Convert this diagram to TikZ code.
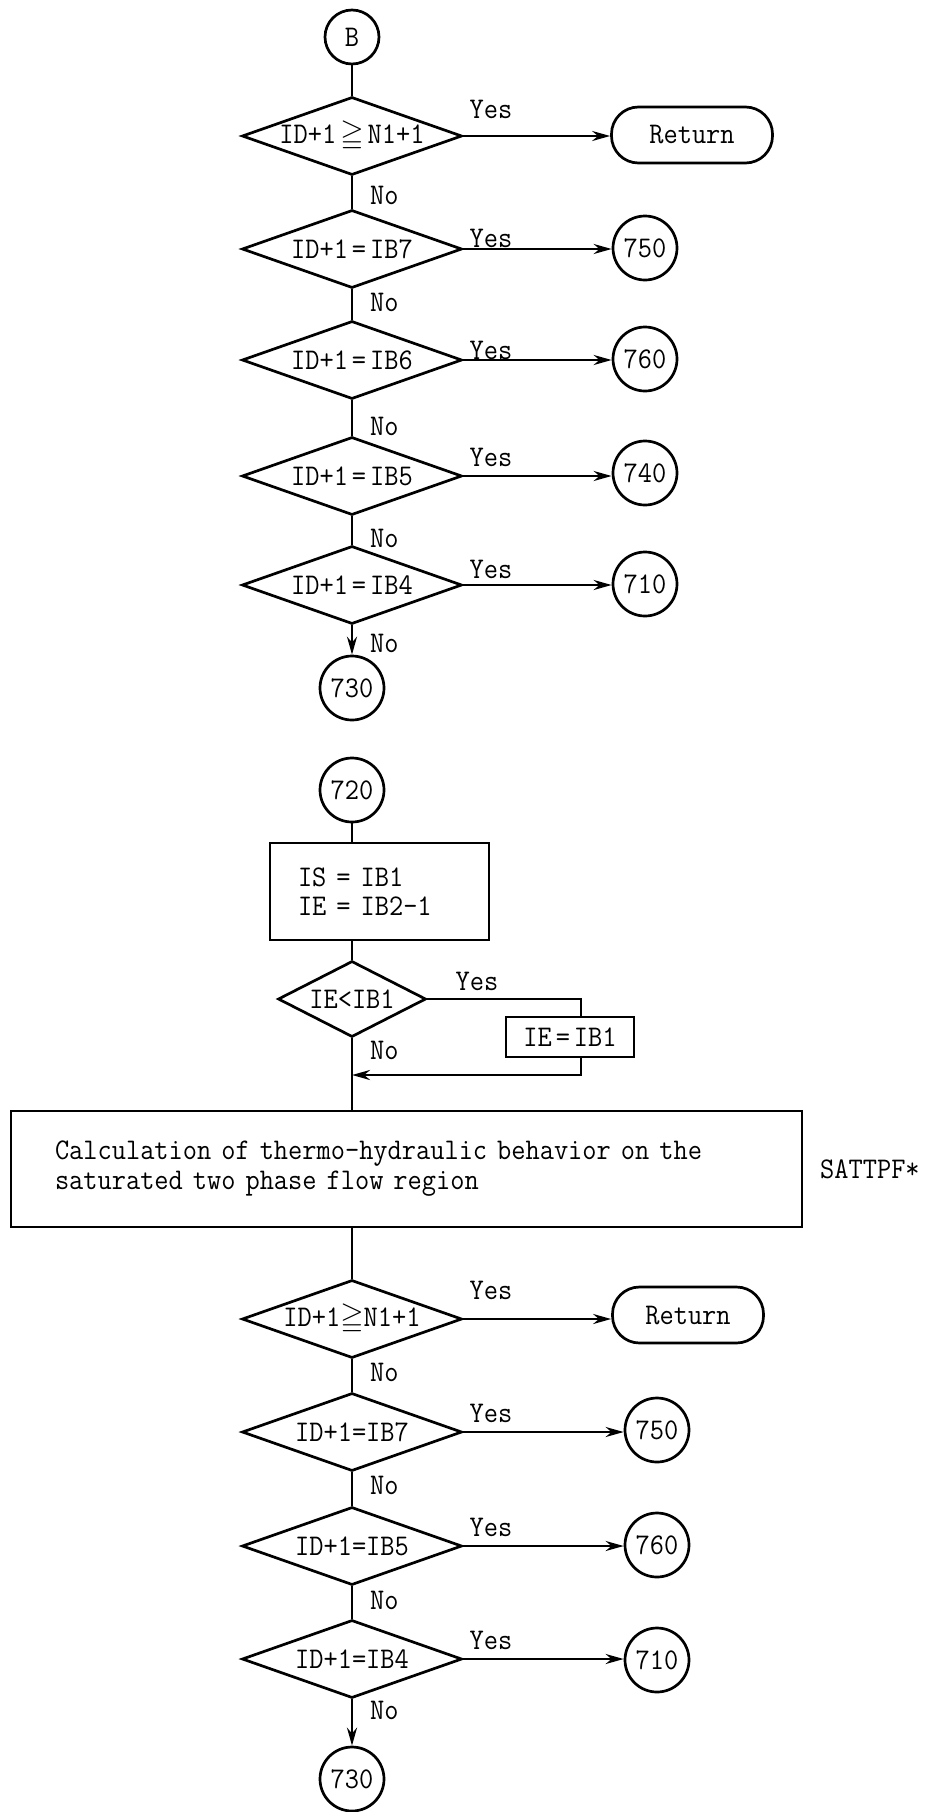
\documentclass[tikz,border=0pt]{standalone}
\usepackage{amssymb}
\usepackage{fontspec}
\setmonofont{lmmono12-regular.otf}[FakeStretch=0.92]
\usetikzlibrary{shapes.geometric,arrows.meta}
\newcommand\tyfont{\fontsize{30}{26}\selectfont\ttfamily}
\newcommand\ts{\hspace{4pt}}
\tikzset{
  base/.style={draw, line width=2.7pt, inner sep=0pt},
  dec/.style={base, diamond, minimum width=220pt, minimum height=78pt},
  conn/.style={base, circle, minimum size=64pt},
  term/.style={base, rectangle, rounded corners=27pt, minimum width=161pt, minimum height=56pt},
  proc/.style={base, rectangle},
  lbl/.style={inner sep=0pt},
  flow/.style={line width=2.5pt},
  arr/.style={flow, -{Stealth[length=18pt,width=10pt]}},
}
\begin{document}
\begin{tikzpicture}[x=1pt,y=-1pt,font=\tyfont]
\useasboundingbox (0,0) rectangle (932,1812);
% ---------- top part ----------
\node[conn, minimum size=54pt] (B) at (352,37) {B};
\node[dec] (d1) at (352,136) {\makebox[0pt]{ID+1\ts$\geqq$\ts N1+1}};
\node[term] (r1) at (692,135) {Return};
\node[dec] (d2) at (352,249) {\makebox[0pt]{ID+1\ts=\ts IB7}};
\node[conn] (c750a) at (645,248) {750};
\node[dec] (d3) at (352,360) {\makebox[0pt]{ID+1\ts=\ts IB6}};
\node[conn] (c760a) at (645,359) {760};
\node[dec] (d4) at (352,476) {\makebox[0pt]{ID+1\ts=\ts IB5}};
\node[conn] (c740) at (645,473) {740};
\node[dec] (d5) at (352,585) {\makebox[0pt]{ID+1\ts=\ts IB4}};
\node[conn] (c710a) at (645,584) {710};
\node[conn] (c730a) at (352,688) {730};

\node[lbl] (y1) at (491,109) {Yes};
\node[lbl] (y2) at (491,238) {Yes};
\node[lbl] (y3) at (491,350) {Yes};
\node[lbl] (y4) at (491,457) {Yes};
\node[lbl] (y5) at (491,569) {Yes};
\node[lbl, anchor=west] (n1) at (370,195) {No};
\node[lbl, anchor=west] (n2) at (370,302) {No};
\node[lbl, anchor=west] (n3) at (370,426) {No};
\node[lbl, anchor=west] (n4) at (370,538) {No};
\node[lbl, anchor=west] (n5) at (370,643) {No};

\draw[flow] (B) -- (d1.north);
\draw[flow] (d1.south) -- (d2.north);
\draw[flow] (d2.south) -- (d3.north);
\draw[flow] (d3.south) -- (d4.north);
\draw[flow] (d4.south) -- (d5.north);
\draw[arr] (d5.south) -- (c730a.north);
\draw[arr] (d1.east) -- (d1.east -| r1.west);
\draw[arr] (d2.east) -- (d2.east -| c750a.west);
\draw[arr] (d3.east) -- (d3.east -| c760a.west);
\draw[arr] (d4.east) -- (d4.east -| c740.west);
\draw[arr] (d5.east) -- (d5.east -| c710a.west);

% ---------- middle part ----------
\node[conn] (c720) at (352,790) {720};
\node[proc, minimum width=219pt, minimum height=97pt, text width=163pt, inner xsep=28pt, align=left] (p1) at (379.5,891.5) {IS = IB1\\[3pt]IE = IB2-1};
\node[dec, minimum width=148pt, minimum height=76pt] (d6) at (352,999) {\makebox[0pt]{IE<IB1}};
\node[proc, minimum width=128pt, minimum height=40pt] (p2) at (570,1037) {\makebox[0pt]{IE\ts=\ts IB1}};
\node[lbl] (y6) at (477,981) {Yes};
\node[lbl, anchor=west] (n6) at (370,1050) {No};
\coordinate (k1) at (581,999);
\coordinate (k2) at (581,1075);
\coordinate (m1) at (352,1075);
\node[proc, minimum width=791pt, minimum height=116pt, text width=703pt, inner xsep=44pt, align=left] (big) at (406.5,1169) {Calculation of thermo-hydraulic behavior on the\\[4pt]saturated two phase flow region};
\node[lbl, anchor=west] (sat) at (820,1169) {SATTPF*};

\draw[flow] (c720.south) -- (c720.south |- p1.north);
\draw[flow] (d6.north |- p1.south) -- (d6.north);
\draw[flow] (d6.east) -- (k1) -- (k1 |- p2.north);
\draw[arr] (k1 |- p2.south) -- (k2) -- (m1);
\draw[flow] (d6.south) -- (d6.south |- big.north);

% ---------- bottom part ----------
\node[dec] (d7) at (352,1319) {\makebox[0pt]{ID+1$\geqq$N1+1}};
\node[term, minimum width=151pt] (r2) at (688,1315) {Return};
\node[dec] (d8) at (352,1432) {\makebox[0pt]{ID+1=IB7}};
\node[conn] (c750b) at (657,1430) {750};
\node[dec] (d9) at (352,1546) {\makebox[0pt]{ID+1=IB5}};
\node[conn] (c760b) at (657,1545) {760};
\node[dec] (d10) at (352,1659) {\makebox[0pt]{ID+1=IB4}};
\node[conn] (c710b) at (657,1660) {710};
\node[conn] (c730b) at (352,1779) {730};

\node[lbl] (y7) at (491,1290) {Yes};
\node[lbl] (y8) at (491,1413) {Yes};
\node[lbl] (y9) at (491,1527) {Yes};
\node[lbl] (y10) at (491,1640) {Yes};
\node[lbl, anchor=west] (n7) at (370,1372) {No};
\node[lbl, anchor=west] (n8) at (370,1485) {No};
\node[lbl, anchor=west] (n9) at (370,1600) {No};
\node[lbl, anchor=west] (n10) at (370,1710) {No};

\draw[flow] (d7.north |- big.south) -- (d7.north);
\draw[flow] (d7.south) -- (d8.north);
\draw[flow] (d8.south) -- (d9.north);
\draw[flow] (d9.south) -- (d10.north);
\draw[arr] (d10.south) -- (c730b.north);
\draw[arr] (d7.east) -- (d7.east -| r2.west);
\draw[arr] (d8.east) -- (d8.east -| c750b.west);
\draw[arr] (d9.east) -- (d9.east -| c760b.west);
\draw[arr] (d10.east) -- (d10.east -| c710b.west);
\end{tikzpicture}
\end{document}
